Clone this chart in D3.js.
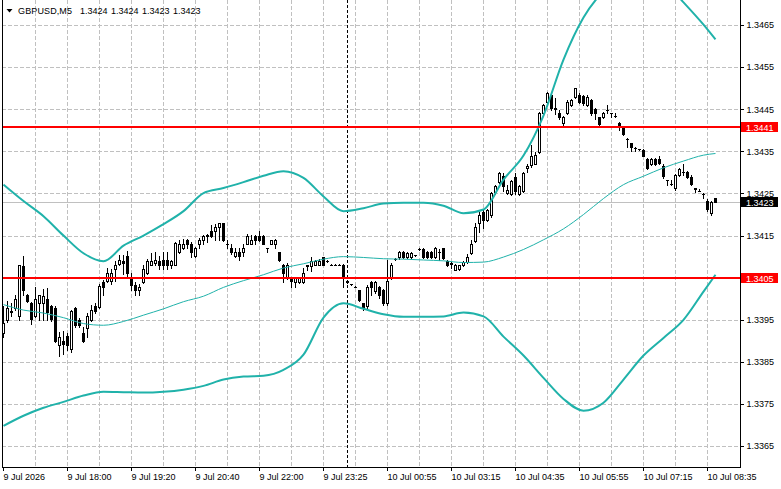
<!DOCTYPE html>
<html lang="en">
<head>
<meta charset="UTF-8">
<title>GBPUSD,M5</title>
<script src="https://d3js.org/d3.v7.min.js"></script>
<style>
    body { margin: 0; background: #ffffff; }
</style>
</head>
<body>
<script>
// M5 bars, oldest first (bar 0 = left edge)
var opens = [
    1.33920, 1.33950, 1.33970, 1.33980, 1.33960, 1.34078, 1.34010, 1.33990, 1.33961, 1.33992,
    1.33992, 1.34000, 1.33983, 1.33980, 1.33892, 1.33900, 1.33912, 1.33882, 1.33980, 1.33951,
    1.33920, 1.33931, 1.33951, 1.33983, 1.33981, 1.34041, 1.34042, 1.34042, 1.34072, 1.34083,
    1.34090, 1.34102, 1.34050, 1.34033, 1.34021, 1.34041, 1.34062, 1.34082, 1.34085, 1.34091,
    1.34092, 1.34092, 1.34082, 1.34082, 1.34112, 1.34122, 1.34141, 1.34132, 1.34102, 1.34131,
    1.34141, 1.34150, 1.34161, 1.34161, 1.34171, 1.34181, 1.34132, 1.34122, 1.34102, 1.34112,
    1.34112, 1.34132, 1.34132, 1.34151, 1.34151, 1.34151, 1.34122, 1.34132, 1.34132, 1.34112,
    1.34082, 1.34050, 1.34050, 1.34040, 1.34040, 1.34040, 1.34078, 1.34078, 1.34082, 1.34082,
    1.34099, 1.34091, 1.34082, 1.34082, 1.34082, 1.34082, 1.34042, 1.34035, 1.34030, 1.34022,
    1.33990, 1.33983, 1.34040, 1.34020, 1.34030, 1.34022, 1.33990, 1.34050, 1.34096, 1.34099,
    1.34112, 1.34100, 1.34100, 1.34104, 1.34118, 1.34120, 1.34112, 1.34112, 1.34100, 1.34112,
    1.34121, 1.34090, 1.34085, 1.34070, 1.34072, 1.34080, 1.34088, 1.34110, 1.34138, 1.34180,
    1.34208, 1.34188, 1.34199, 1.34255, 1.34278, 1.34292, 1.34252, 1.34250, 1.34290, 1.34250,
    1.34258, 1.34312, 1.34318, 1.34322, 1.34350, 1.34443, 1.34469, 1.34485, 1.34453, 1.34443,
    1.34419, 1.34443, 1.34461, 1.34481, 1.34485, 1.34483, 1.34461, 1.34473, 1.34451, 1.34432,
    1.34432, 1.34449, 1.34441, 1.34434, 1.34419, 1.34408, 1.34381, 1.34371, 1.34358, 1.34356,
    1.34354, 1.34333, 1.34322, 1.34332, 1.34332, 1.34317, 1.34284, 1.34273, 1.34263, 1.34294,
    1.34302, 1.34302, 1.34291, 1.34263, 1.34257, 1.34250, 1.34232, 1.34205, 1.34240
];
var highs = [
    1.33983, 1.33995, 1.33990, 1.34010, 1.34082, 1.34102, 1.34012, 1.33993, 1.34030, 1.34010,
    1.34025, 1.34027, 1.33985, 1.33983, 1.33922, 1.33925, 1.33920, 1.33975, 1.33982, 1.33955,
    1.33935, 1.33968, 1.33987, 1.33990, 1.34035, 1.34046, 1.34075, 1.34072, 1.34090, 1.34105,
    1.34105, 1.34115, 1.34062, 1.34040, 1.34035, 1.34080, 1.34095, 1.34110, 1.34113, 1.34103,
    1.34113, 1.34113, 1.34092, 1.34135, 1.34140, 1.34142, 1.34143, 1.34135, 1.34125, 1.34145,
    1.34153, 1.34155, 1.34175, 1.34179, 1.34182, 1.34182, 1.34141, 1.34132, 1.34122, 1.34122,
    1.34132, 1.34155, 1.34152, 1.34153, 1.34161, 1.34153, 1.34122, 1.34141, 1.34142, 1.34113,
    1.34083, 1.34085, 1.34052, 1.34052, 1.34052, 1.34074, 1.34082, 1.34101, 1.34093, 1.34095,
    1.34101, 1.34092, 1.34083, 1.34083, 1.34084, 1.34083, 1.34043, 1.34036, 1.34031, 1.34022,
    1.33992, 1.34034, 1.34042, 1.34042, 1.34032, 1.34025, 1.34092, 1.34085, 1.34098, 1.34114,
    1.34114, 1.34112, 1.34112, 1.34106, 1.34121, 1.34122, 1.34114, 1.34114, 1.34125, 1.34120,
    1.34122, 1.34092, 1.34088, 1.34083, 1.34082, 1.34090, 1.34108, 1.34140, 1.34180, 1.34207,
    1.34212, 1.34215, 1.34255, 1.34270, 1.34303, 1.34300, 1.34270, 1.34282, 1.34300, 1.34270,
    1.34302, 1.34322, 1.34366, 1.34350, 1.34445, 1.34463, 1.34493, 1.34489, 1.34477, 1.34450,
    1.34435, 1.34472, 1.34475, 1.34502, 1.34489, 1.34485, 1.34485, 1.34476, 1.34453, 1.34433,
    1.34445, 1.34461, 1.34442, 1.34441, 1.34420, 1.34410, 1.34382, 1.34372, 1.34362, 1.34357,
    1.34356, 1.34335, 1.34335, 1.34335, 1.34340, 1.34322, 1.34284, 1.34284, 1.34297, 1.34312,
    1.34322, 1.34305, 1.34295, 1.34263, 1.34262, 1.34252, 1.34238, 1.34232, 1.34240
];
var lows = [
    1.33910, 1.33945, 1.33960, 1.33975, 1.33950, 1.34010, 1.33993, 1.33940, 1.33958, 1.33950,
    1.33950, 1.33950, 1.33948, 1.33898, 1.33864, 1.33870, 1.33880, 1.33875, 1.33935, 1.33935,
    1.33898, 1.33909, 1.33948, 1.33968, 1.33978, 1.34009, 1.34040, 1.34035, 1.34042, 1.34080,
    1.34060, 1.34055, 1.34022, 1.34010, 1.34010, 1.34038, 1.34060, 1.34080, 1.34082, 1.34072,
    1.34072, 1.34072, 1.34075, 1.34080, 1.34110, 1.34118, 1.34122, 1.34100, 1.34100, 1.34122,
    1.34130, 1.34135, 1.34148, 1.34141, 1.34140, 1.34138, 1.34122, 1.34108, 1.34100, 1.34092,
    1.34102, 1.34130, 1.34130, 1.34132, 1.34138, 1.34130, 1.34112, 1.34130, 1.34122, 1.34090,
    1.34040, 1.34048, 1.34030, 1.34030, 1.34038, 1.34038, 1.34070, 1.34066, 1.34080, 1.34080,
    1.34080, 1.34089, 1.34080, 1.34080, 1.34080, 1.34030, 1.34038, 1.34033, 1.34028, 1.33995,
    1.33975, 1.33980, 1.34010, 1.34015, 1.34002, 1.33985, 1.33985, 1.34048, 1.34094, 1.34096,
    1.34097, 1.34098, 1.34098, 1.34102, 1.34116, 1.34098, 1.34098, 1.34098, 1.34098, 1.34092,
    1.34095, 1.34078, 1.34075, 1.34069, 1.34070, 1.34078, 1.34086, 1.34108, 1.34135, 1.34160,
    1.34170, 1.34185, 1.34195, 1.34250, 1.34275, 1.34258, 1.34250, 1.34248, 1.34250, 1.34248,
    1.34255, 1.34302, 1.34315, 1.34320, 1.34348, 1.34440, 1.34465, 1.34450, 1.34440, 1.34428,
    1.34411, 1.34440, 1.34458, 1.34478, 1.34465, 1.34462, 1.34458, 1.34438, 1.34429, 1.34410,
    1.34430, 1.34441, 1.34433, 1.34433, 1.34402, 1.34390, 1.34362, 1.34352, 1.34352, 1.34354,
    1.34339, 1.34308, 1.34318, 1.34318, 1.34320, 1.34288, 1.34272, 1.34272, 1.34260, 1.34292,
    1.34294, 1.34288, 1.34270, 1.34255, 1.34256, 1.34241, 1.34209, 1.34201, 1.34230
];
var closes = [
    1.33944, 1.33980, 1.33972, 1.34000, 1.34080, 1.34022, 1.33995, 1.33952, 1.34001, 1.34009,
    1.34008, 1.33970, 1.33952, 1.33900, 1.33911, 1.33893, 1.33890, 1.33972, 1.33939, 1.33939,
    1.33900, 1.33961, 1.33975, 1.33971, 1.34032, 1.34030, 1.34062, 1.34062, 1.34082, 1.34092,
    1.34085, 1.34062, 1.34033, 1.34021, 1.34030, 1.34072, 1.34091, 1.34091, 1.34092, 1.34082,
    1.34082, 1.34082, 1.34090, 1.34133, 1.34132, 1.34132, 1.34132, 1.34112, 1.34121, 1.34141,
    1.34151, 1.34152, 1.34151, 1.34171, 1.34181, 1.34141, 1.34130, 1.34112, 1.34112, 1.34102,
    1.34121, 1.34151, 1.34141, 1.34141, 1.34141, 1.34132, 1.34121, 1.34141, 1.34141, 1.34092,
    1.34062, 1.34082, 1.34042, 1.34050, 1.34050, 1.34062, 1.34080, 1.34091, 1.34091, 1.34091,
    1.34082, 1.34090, 1.34081, 1.34081, 1.34082, 1.34050, 1.34040, 1.34035, 1.34030, 1.33998,
    1.33980, 1.34030, 1.34030, 1.34040, 1.34010, 1.33990, 1.34042, 1.34082, 1.34096, 1.34112,
    1.34099, 1.34110, 1.34110, 1.34104, 1.34119, 1.34100, 1.34100, 1.34100, 1.34122, 1.34113,
    1.34097, 1.34080, 1.34083, 1.34080, 1.34080, 1.34088, 1.34100, 1.34132, 1.34171, 1.34200,
    1.34188, 1.34212, 1.34251, 1.34268, 1.34300, 1.34268, 1.34260, 1.34280, 1.34258, 1.34268,
    1.34300, 1.34316, 1.34340, 1.34342, 1.34441, 1.34461, 1.34490, 1.34453, 1.34452, 1.34432,
    1.34432, 1.34469, 1.34473, 1.34501, 1.34469, 1.34465, 1.34481, 1.34441, 1.34441, 1.34417,
    1.34441, 1.34450, 1.34442, 1.34434, 1.34410, 1.34392, 1.34380, 1.34362, 1.34358, 1.34356,
    1.34341, 1.34312, 1.34332, 1.34322, 1.34324, 1.34292, 1.34283, 1.34274, 1.34294, 1.34310,
    1.34303, 1.34290, 1.34273, 1.34262, 1.34257, 1.34249, 1.34213, 1.34230, 1.34230
];

// Bollinger bands (20), every 5 bars
var bandBars = [0, 5, 10, 15, 20, 25, 30, 35, 40, 45, 50, 55, 60, 65, 70, 75, 80, 85, 90,
    95, 100, 105, 110, 115, 120, 125, 130, 135, 140, 145, 150, 155, 160, 165, 170, 175, 178];
var bandUpper = [1.34272, 1.34233, 1.34197, 1.34151, 1.34109, 1.34090, 1.34127, 1.34151, 1.34178, 1.34209,
    1.34252, 1.34264, 1.34278, 1.34293, 1.34304, 1.34288, 1.34244, 1.34209, 1.34216, 1.34227,
    1.34229, 1.34229, 1.34222, 1.34204, 1.34213, 1.34284, 1.34341, 1.34436, 1.34569, 1.34669,
    1.34731, 1.34764, 1.34771, 1.34755, 1.34705, 1.34652, 1.34617];
var bandMiddle = [1.33987, 1.33974, 1.33967, 1.33956, 1.33942, 1.33938, 1.33947, 1.33962, 1.33977, 1.33994,
    1.34007, 1.34028, 1.34044, 1.34058, 1.34074, 1.34084, 1.34095, 1.34101, 1.34099, 1.34096,
    1.34095, 1.34093, 1.34091, 1.34087, 1.34088, 1.34100, 1.34118, 1.34141, 1.34167, 1.34201,
    1.34239, 1.34272, 1.34292, 1.34312, 1.34328, 1.34342, 1.34346];
var bandLower = [1.33699, 1.33723, 1.33742, 1.33756, 1.33771, 1.33780, 1.33779, 1.33778, 1.33780, 1.33785,
    1.33794, 1.33809, 1.33816, 1.33818, 1.33832, 1.33868, 1.33956, 1.33990, 1.33977, 1.33964,
    1.33958, 1.33958, 1.33959, 1.33968, 1.33959, 1.33911, 1.33866, 1.33813, 1.33763, 1.33735,
    1.33754, 1.33809, 1.33866, 1.33908, 1.33951, 1.34018, 1.34058];

var priceTicks = [1.3365, 1.3375, 1.3385, 1.3395, 1.3405, 1.3415, 1.3425, 1.3435, 1.3445, 1.3455, 1.3465];
var timeTickBars = [0, 16, 32, 48, 64, 80, 96, 112, 128, 144, 160, 176];
var timeTickLabels = ["9 Jul 2026", "9 Jul 18:00", "9 Jul 19:20", "9 Jul 20:40", "9 Jul 22:00", "9 Jul 23:25",
    "10 Jul 00:55", "10 Jul 03:15", "10 Jul 04:35", "10 Jul 05:55", "10 Jul 07:15", "10 Jul 08:35"];
var levelLines = [1.3441, 1.3405];
var bidPrice = 1.3423;
var separatorBar = 86;
var titleSymbol = "GBPUSD,M5";
var titleQuotes = ["1.3424", "1.3424", "1.3423", "1.3423"];

var FONT = "'Liberation Sans', Arial, sans-serif";
var BAND = "#20b2aa";

var plotLeft = 2, plotRight = 740, plotBottom = 467;

var svg = d3.select("body")
    .append("svg")
    .attr("width", 781)
    .attr("height", 489)
    .style("display", "block")
    .style("background", "#ffffff");

var x = d3.scaleLinear().domain([0, opens.length - 1]).range([3.5, 715.5]);
var y = d3.scaleLinear().domain([1.3365, 1.3465]).range([446.5, 25.5]);

function row(v) { return Math.round(y(v)); }
function col(i) { return Math.floor(x(i)); }

// grid
var grid = svg.append("g")
    .attr("stroke", "#c0c0c0")
    .attr("stroke-dasharray", "4,2")
    .attr("shape-rendering", "crispEdges");

grid.selectAll(".hgrid").data(priceTicks).enter().append("line")
    .attr("x1", plotLeft).attr("x2", plotRight)
    .attr("y1", d => Math.floor(y(d)) + 0.5)
    .attr("y2", d => Math.floor(y(d)) + 0.5);

grid.selectAll(".vgrid").data(d3.range(8, opens.length, 8)).enter().append("line")
    .attr("x1", d => col(d) + 0.5).attr("x2", d => col(d) + 0.5)
    .attr("y1", 0).attr("y2", plotBottom);

// bid line
svg.append("line")
    .attr("x1", plotLeft).attr("x2", plotRight)
    .attr("y1", Math.floor(y(bidPrice)) + 0.5)
    .attr("y2", Math.floor(y(bidPrice)) + 0.5)
    .attr("stroke", "#c0c0c0")
    .attr("shape-rendering", "crispEdges");

// period separator
svg.append("line")
    .attr("x1", col(separatorBar) + 0.5).attr("x2", col(separatorBar) + 0.5)
    .attr("y1", 0).attr("y2", plotBottom)
    .attr("stroke", "#000")
    .attr("stroke-dasharray", "3,2")
    .attr("shape-rendering", "crispEdges");

// candles
var bars = opens.map((o, i) => ({ i: i, o: o, h: highs[i], l: lows[i], c: closes[i] }));

var candles = svg.append("g").attr("shape-rendering", "crispEdges");

candles.selectAll("g").data(bars).enter().append("g")
    .each(function (d) {
        var g = d3.select(this);
        var cx = col(d.i);
        var top = row(Math.max(d.o, d.c));
        var bot = row(Math.min(d.o, d.c));
        var hi = row(d.h), lo = row(d.l);
        if (top > hi) {
            g.append("rect").attr("x", cx).attr("y", hi).attr("width", 1).attr("height", top - hi).attr("fill", "#000");
        }
        if (lo > bot) {
            g.append("rect").attr("x", cx).attr("y", bot + 1).attr("width", 1).attr("height", lo - bot).attr("fill", "#000");
        }
        if (bot <= top) {
            g.append("rect").attr("x", cx - 1).attr("y", top).attr("width", 3).attr("height", 1).attr("fill", "#000");
        } else if (d.c > d.o) {
            g.append("rect").attr("x", cx - 0.5).attr("y", top + 0.5)
                .attr("width", 2).attr("height", bot - top)
                .attr("fill", "#fff").attr("stroke", "#000");
        } else {
            g.append("rect").attr("x", cx - 1).attr("y", top)
                .attr("width", 3).attr("height", bot - top + 1).attr("fill", "#000");
        }
    });

// bollinger bands
svg.append("clipPath").attr("id", "plotClip")
    .append("rect").attr("x", 3).attr("y", 0).attr("width", plotRight - 3).attr("height", plotBottom);

var bandLine = d3.line()
    .x(d => x(d[0]))
    .y(d => y(d[1]))
    .curve(d3.curveMonotoneX);

var bands = svg.append("g").attr("clip-path", "url(#plotClip)").attr("fill", "none").attr("stroke", BAND);
bands.append("path").attr("d", bandLine(d3.zip(bandBars, bandUpper))).attr("stroke-width", 2);
bands.append("path").attr("d", bandLine(d3.zip(bandBars, bandLower))).attr("stroke-width", 2);
bands.append("path").attr("d", bandLine(d3.zip(bandBars, bandMiddle))).attr("stroke-width", 1);

// horizontal levels
svg.append("g").selectAll("line").data(levelLines).enter().append("line")
    .attr("x1", plotLeft).attr("x2", plotRight)
    .attr("y1", d => row(d)).attr("y2", d => row(d))
    .attr("stroke", "#ff0000")
    .attr("stroke-width", 2)
    .attr("shape-rendering", "crispEdges");

// frame
svg.append("path")
    .attr("d", "M" + (plotLeft + 0.5) + ",0V" + (plotBottom + 0.5) + "H" + (plotRight + 0.5) + "V0")
    .attr("fill", "none")
    .attr("stroke", "#000")
    .attr("shape-rendering", "crispEdges");

// axes
var yAxis = d3.axisRight(y)
    .tickValues(priceTicks)
    .tickSize(3)
    .tickPadding(3)
    .tickFormat(d3.format(".4f"));

svg.append("g")
    .attr("transform", "translate(" + (plotRight + 0.5) + ",-0.5)")
    .attr("shape-rendering", "crispEdges")
    .call(yAxis)
    .call(g => g.select(".domain").remove())
    .call(g => g.selectAll("text").attr("font-family", FONT).attr("font-size", 9).attr("fill", "#000"));

var xAxis = d3.axisBottom(x)
    .tickValues(timeTickBars)
    .tickSize(3)
    .tickPadding(3)
    .tickFormat((d, i) => timeTickLabels[i]);

svg.append("g")
    .attr("transform", "translate(-0.5," + (plotBottom + 0.5) + ")")
    .attr("shape-rendering", "crispEdges")
    .call(xAxis)
    .call(g => g.select(".domain").remove())
    .call(g => g.selectAll("text").attr("font-family", FONT).attr("font-size", 9)
        .attr("fill", "#000").attr("text-anchor", "start"));

// price tags on the scale
var tags = levelLines.map(v => ({ v: v, fill: "#ff0000" })).concat([{ v: bidPrice, fill: "#000000" }]);

var tag = svg.append("g").selectAll("g").data(tags).enter().append("g");
tag.append("rect")
    .attr("x", plotRight + 1).attr("y", d => row(d.v) - 5)
    .attr("width", 37).attr("height", 10)
    .attr("fill", d => d.fill)
    .attr("shape-rendering", "crispEdges");
tag.append("text")
    .attr("x", plotRight + 6).attr("y", d => row(d.v) + 3.5)
    .attr("font-family", FONT).attr("font-size", 9)
    .attr("fill", "#fff")
    .text(d => d3.format(".4f")(d.v));

// title
svg.append("path").attr("d", "M6.5,9L12.5,9L9.5,12.5Z").attr("fill", "#000");
var title = svg.append("text")
    .attr("y", 14)
    .attr("font-family", FONT).attr("font-size", 9)
    .attr("fill", "#000");
title.append("tspan")
    .attr("x", 18)
    .attr("textLength", 54)
    .attr("lengthAdjust", "spacing")
    .text(titleSymbol);
title.selectAll(".q").data(titleQuotes).enter().append("tspan")
    .attr("x", (d, i) => 80 + i * 31)
    .text(d => d);
</script>
</body>
</html>
